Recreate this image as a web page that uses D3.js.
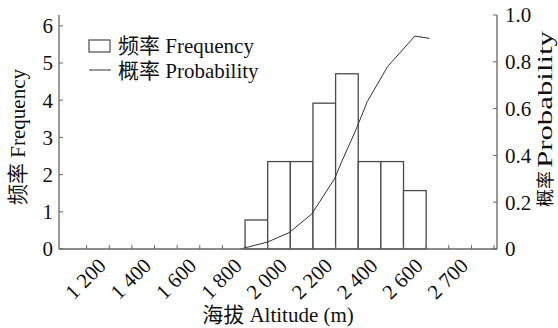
<!DOCTYPE html>
<html>
<head>
<meta charset="utf-8">
<script src="https://cdn.jsdelivr.net/npm/d3@7"></script>
<style>
  body { margin: 0; background: #fff; }
  svg { display: block; }
  text { font-family: "Liberation Serif", "Noto Sans CJK SC", serif; fill: #111; }
</style>
</head>
<body>
<div id="chart"></div>
<script>
// bins (lower edge, 100 m wide) and frequency
const binStarts = [1800, 1900, 2000, 2100, 2200, 2300, 2400, 2500];
const frequency = [0.78, 2.35, 2.35, 3.92, 4.71, 2.35, 2.35, 1.57];
// probability curve
const probAlt = [1780, 1900, 1995, 2095, 2195, 2230, 2290, 2340, 2430, 2550, 2615];
const probVal = [0, 0.03, 0.07, 0.15, 0.30, 0.38, 0.51, 0.63, 0.78, 0.91, 0.90];
// axes
const xTickValues = [1200, 1400, 1600, 1800, 2000, 2200, 2400, 2600, 2800];
const xTickLabels = ["1 200", "1 400", "1 600", "1 800", "2 000", "2 200", "2 400", "2 600", "2 700"];
const xMinorTicks = d3.range(1100, 3000, 100);
const yLeftTicks = [0, 1, 2, 3, 4, 5, 6];
const yRightTicks = [0, 0.2, 0.4, 0.6, 0.8, 1.0];

const width = 558, height = 328;
const mLeft = 59, mRight = 497, mTop = 15, mBottom = 249;
const fs = 21;

const svg = d3.select("#chart").append("svg")
  .attr("width", width).attr("height", height);

const x = d3.scaleLinear().domain([978, 2913]).range([mLeft, mRight]);
const yL = d3.scaleLinear().domain([0, 6.29]).range([mBottom, mTop]);
const yR = d3.scaleLinear().domain([0, 1]).range([mBottom, mTop]);

const axisColor = "#666";

// bars
svg.append("g")
  .selectAll("rect")
  .data(binStarts)
  .join("rect")
  .attr("x", d => x(d))
  .attr("width", d => x(d + 100) - x(d))
  .attr("y", (d, i) => yL(frequency[i]))
  .attr("height", (d, i) => yL(0) - yL(frequency[i]))
  .attr("fill", "#fff")
  .attr("stroke", "#4a4a4a")
  .attr("stroke-width", 1.3);

// probability line
const line = d3.line()
  .x((d, i) => x(probAlt[i]))
  .y((d, i) => yR(probVal[i]));
svg.append("path")
  .datum(probVal)
  .attr("d", line)
  .attr("fill", "none")
  .attr("stroke", "#333")
  .attr("stroke-width", 1);

// bottom axis: minor ticks inward
const xAxis = svg.append("g").attr("transform", `translate(0,${mBottom})`);
xAxis.append("line").attr("x1", mLeft).attr("x2", mRight)
  .attr("stroke", axisColor).attr("stroke-width", 1.3);
xAxis.selectAll(".minor")
  .data(xMinorTicks)
  .join("line")
  .attr("x1", d => x(d)).attr("x2", d => x(d))
  .attr("y1", 0).attr("y2", -4)
  .attr("stroke", axisColor);
xAxis.selectAll(".lab")
  .data(xTickValues)
  .join("text")
  .attr("transform", d => `translate(${x(d) - 2},${18}) rotate(-45)`)
  .attr("text-anchor", "end")
  .attr("font-size", fs)
  .text((d, i) => xTickLabels[i]);

// left axis
const yAxisL = svg.append("g").attr("transform", `translate(${mLeft},0)`);
yAxisL.append("line").attr("y1", mTop).attr("y2", mBottom)
  .attr("stroke", axisColor).attr("stroke-width", 1.3);
yAxisL.selectAll(".tick")
  .data(yLeftTicks)
  .join("line")
  .attr("y1", d => yL(d)).attr("y2", d => yL(d))
  .attr("x1", 0).attr("x2", 4)
  .attr("stroke", axisColor);
yAxisL.selectAll(".lab")
  .data(yLeftTicks)
  .join("text")
  .attr("x", -6)
  .attr("y", d => yL(d))
  .attr("dy", "0.35em")
  .attr("text-anchor", "end")
  .attr("font-size", fs)
  .text(d => d);

// right axis
const yAxisR = svg.append("g").attr("transform", `translate(${mRight},0)`);
yAxisR.append("line").attr("y1", mTop).attr("y2", mBottom)
  .attr("stroke", axisColor).attr("stroke-width", 1.3);
yAxisR.selectAll(".tick")
  .data(yRightTicks)
  .join("line")
  .attr("y1", d => yR(d)).attr("y2", d => yR(d))
  .attr("x1", 0).attr("x2", -4)
  .attr("stroke", axisColor);
yAxisR.selectAll(".lab")
  .data(yRightTicks)
  .join("text")
  .attr("x", 8)
  .attr("y", d => yR(d))
  .attr("dy", "0.35em")
  .attr("font-size", fs)
  .text(d => d === 0 ? "0" : d3.format(".1f")(d));

// axis titles
svg.append("text")
  .attr("transform", `translate(25,${(mTop + mBottom) / 2 + 5}) rotate(-90)`)
  .attr("text-anchor", "middle")
  .attr("font-size", fs)
  .text("频率 Frequency");
// right title is stretched along the axis in the reference
svg.append("text")
  .attr("transform", `translate(552,207) rotate(-90)`)
  .attr("font-size", 18)
  .text("概率");
svg.append("text")
  .attr("transform", `translate(552,168) rotate(-90)`)
  .attr("font-size", fs)
  .attr("textLength", 137)
  .attr("lengthAdjust", "spacingAndGlyphs")
  .text("Probability");
svg.append("text")
  .attr("x", (mLeft + mRight) / 2)
  .attr("y", 322)
  .attr("text-anchor", "middle")
  .attr("font-size", fs)
  .text("海拔 Altitude (m)");

// legend
const legend = svg.append("g");
legend.append("rect")
  .attr("x", 89).attr("y", 40).attr("width", 21).attr("height", 12)
  .attr("fill", "#fff").attr("stroke", "#4a4a4a").attr("stroke-width", 1.2);
legend.append("text").attr("x", 118).attr("y", 53).attr("font-size", fs).text("频率 Frequency");
legend.append("line")
  .attr("x1", 89).attr("x2", 111).attr("y1", 70).attr("y2", 70)
  .attr("stroke", "#333");
legend.append("text").attr("x", 118).attr("y", 78).attr("font-size", fs).text("概率 Probability");
</script>
</body>
</html>
